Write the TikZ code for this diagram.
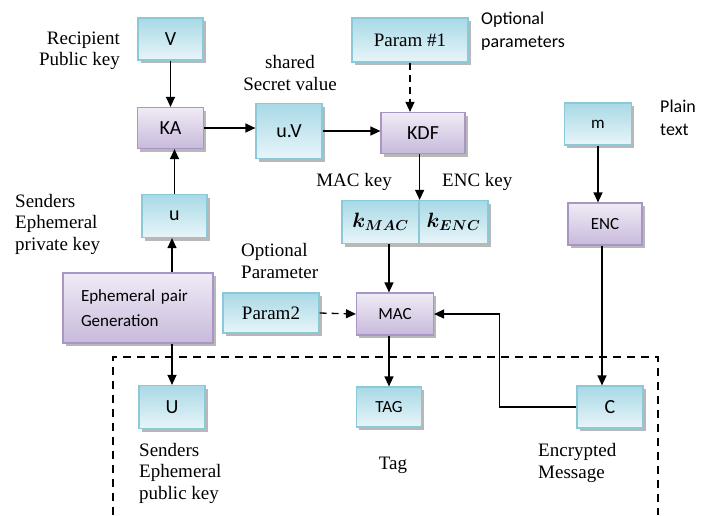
\documentclass[tikz,border=0pt]{standalone}
\usepackage{amsmath}
\usepackage{fontspec}
\setmainfont{Liberation Serif}
\setsansfont{Carlito}
\usetikzlibrary{arrows.meta,shadows}

\definecolor{cyantop}{RGB}{168,217,230}
\definecolor{cyanbot}{RGB}{232,245,249}
\definecolor{cyanline}{RGB}{140,201,216}
\definecolor{purptop}{RGB}{240,235,246}
\definecolor{purpbot}{RGB}{200,186,219}
\definecolor{purpline}{RGB}{168,150,198}

\begin{document}
\begin{tikzpicture}[x=1pt, y=-1pt]
      \tikzstyle{box}=[inner sep=0pt, line width=1.2pt,
        drop shadow={shadow xshift=2.5pt, shadow yshift=-3pt, fill=black!35, opacity=0.8}]
      \tikzstyle{cyanbox}=[box, draw=cyanline, top color=cyantop, bottom color=cyanbot]
      \tikzstyle{purpbox}=[box, draw=purpline, top color=purptop, bottom color=purpbot]
      \tikzstyle{big}=[font=\sffamily\fontsize{20}{24}\selectfont]
      \tikzstyle{small}=[font=\sffamily\fontsize{17}{20}\selectfont]
      \tikzstyle{serif}=[font=\fontsize{19}{22}\selectfont]
      \tikzstyle{label}=[font=\fontsize{19}{21.5}\selectfont, inner sep=0pt]
      \tikzstyle{slabel}=[font=\sffamily\fontsize{18}{22.5}\selectfont, inner sep=0pt]
      \tikzstyle{arr}=[line width=1.3pt, -{Triangle[width=9pt,length=10pt]}]
      \tikzstyle{darr}=[arr, dash pattern=on 7pt off 5pt]

      \useasboundingbox (0,0) rectangle (711,515);

      % boxes
      \path (170.5,39) node[cyanbox, big, minimum width=65, minimum height=42] (V) {V};
      \path (170.5,128) node[purpbox, big, minimum width=66, minimum height=41] (KA) {KA};
      \path (289,131) node[cyanbox, big, minimum width=66, minimum height=55] (uV) {u.V};
      \path (410,40) node[cyanbox, serif, minimum width=116, minimum height=44] (P1) {Param \#1};
      \path (423,133) node[purpbox, big, minimum width=84, minimum height=41] (KDF) {KDF};
      \path (598,124) node[cyanbox, small, minimum width=67, minimum height=42] (m) {m};
      \path (605,224) node[purpbox, small, minimum width=74, minimum height=42] (ENC) {ENC};
      \path (380.5,222) node[cyanbox, minimum width=77, minimum height=43] (kMAC)
        {\fontsize{20}{24}\selectfont$\boldsymbol{k_{MAC}}$};
      \path (453.5,222) node[cyanbox, minimum width=69, minimum height=43] (kENC)
        {\fontsize{20}{24}\selectfont$\boldsymbol{k_{ENC}}$};
      \path (174.5,216) node[cyanbox, big, minimum width=65, minimum height=43] (u) {u};
      \path (138,308) node[purpbox, small, text width=114, inner xsep=18, minimum height=70,
        align=left, font=\sffamily\fontsize{17}{25}\selectfont] (Eph) {Ephemeral pair\\Generation};
      \path (271,313) node[cyanbox, serif, minimum width=96, minimum height=40] (P2) {Param2};
      \path (395,314) node[purpbox, small, minimum width=77, minimum height=42] (MAC) {MAC};
      \path (172,407) node[cyanbox, big, minimum width=66, minimum height=43] (U) {U};
      \path (389,407) node[cyanbox, small, minimum width=65, minimum height=40] (TAG) {TAG};
      \path (610,407) node[cyanbox, big, minimum width=66, minimum height=42] (C) {C};

      % labels
      \path (120,51) node[label, anchor=east, align=right] (lrec) {Recipient\\Public key};
      \path (290,73) node[label, align=center] (lsec) {shared\\Secret value};
      \path (481,31) node[slabel, anchor=west, align=left] (lopt) {Optional\\parameters};
      \path (660,118) node[slabel, anchor=west, align=left] (lplain) {Plain\\text};
      \path (392,182) node[label, anchor=east] (lmac) {MAC key};
      \path (442,182) node[label, anchor=west] (lenc) {ENC key};
      \path (15,224) node[label, anchor=west, align=left] (lpriv) {Senders\\Ephemeral\\private key};
      \path (241,261) node[label, anchor=west, align=left] (lopt2) {Optional\\Parameter};
      \path (139,473) node[label, anchor=west, align=left] (lpub) {Senders\\Ephemeral\\public key};
      \path (393,465) node[label] (ltag) {Tag};
      \path (538,463) node[label, anchor=west, align=left] (lmsg) {Encrypted\\Message};

      % connectors
      \draw[arr] (V.south) -- (KA.north);
      \draw[arr] (KA.east) -- (KA.east -| uV.west);
      \draw[arr] (uV.east) -- (uV.east -| KDF.west);
      \draw[darr] (P1.south) -- (P1.south |- KDF.north);
      \draw[arr] (KDF.south -| kMAC.east) -- (kMAC.north east);
      \draw[arr] (u.north) -- (u.north |- KA.south);
      \draw[arr] (Eph.north -| U) -- (u.south -| U);
      \draw[arr] (Eph.south -| U) -- (U.north);
      \draw[darr] (P2.east) -- (MAC.west);
      \draw[arr] (kMAC.south -| TAG) -- (MAC.north -| TAG);
      \draw[arr] (MAC.south -| TAG) -- (TAG.north);
      \draw[arr] (m.south) -- (m.south |- ENC.north);
      \draw[arr] (ENC.south -| 602,0) -- (C.north -| 602,0);
      \draw[arr] (C.west) -- ++(-77,0) |- (MAC.east);

      % frame
      \draw[line width=1.5pt, dash pattern=on 8pt off 6pt]
        (113,515) -- (113,357) -- (658,357) -- (658,515);
    \end{tikzpicture}
\end{document}
